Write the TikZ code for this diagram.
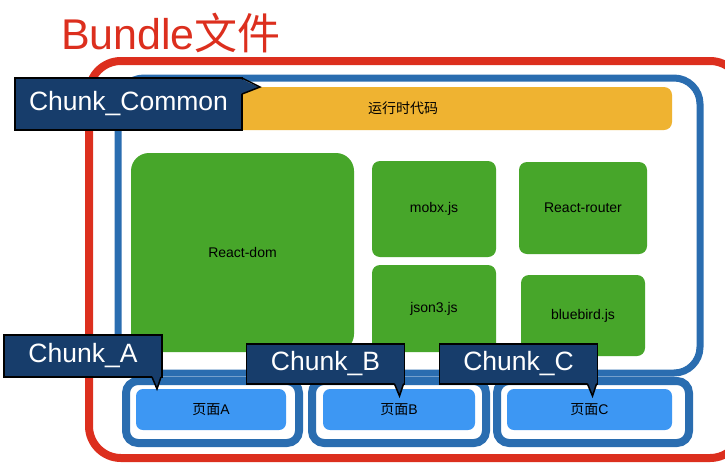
\documentclass[tikz,border=0pt]{standalone}
\usepackage{fontspec}
\setmainfont{Liberation Sans}
\newfontfamily\cjk{Noto Sans CJK SC}
\usetikzlibrary{calc}
\definecolor{bundlered}{HTML}{DC2F1E}
\definecolor{chunkblue}{HTML}{2A6DB0}
\definecolor{runtimeyellow}{HTML}{EFB331}
\definecolor{libgreen}{HTML}{47A62A}
\definecolor{pageblue}{HTML}{3D97F3}
\definecolor{tagnavy}{HTML}{173D6B}

\begin{document}
\begin{tikzpicture}[x=1pt, y=-1pt,
	every node/.style={inner sep=0, outer sep=0},
	bundlebox/.style={draw=bundlered, line width=8pt, rounded corners=32pt},
	commonbox/.style={draw=chunkblue, line width=7pt, fill=white, rounded corners=26pt},
	chunkbox/.style={draw=chunkblue, line width=8pt, fill=white, rounded corners=12pt},
	runtime/.style={fill=runtimeyellow, rounded corners=8pt, font=\cjk\fontsize{14}{16}\selectfont},
	lib/.style={fill=libgreen, rounded corners=8pt, font=\fontsize{14}{16}\selectfont},
	page/.style={fill=pageblue, rounded corners=7pt, font=\fontsize{14}{16}\selectfont},
	tag/.style={fill=tagnavy, draw=black, line width=1.5pt, text=white, font=\fontsize{26.5}{30}\selectfont},
	tagline/.style={draw=black, line width=1.5pt, line join=miter},
	title/.style={text=bundlered, font=\fontsize{43}{48}\selectfont}]
\useasboundingbox (0,0) rectangle (725,466);

\node[title, anchor=base west] (title) at (61,49) {Bundle{\cjk 文件}};
\node[bundlebox, minimum width=653, minimum height=397] (bundle) at (415.5,259.5) {};
\node[commonbox, minimum width=582, minimum height=295] (common) at (409,225.5) {};

\node[runtime, minimum width=538, minimum height=43] (runtime) at (403,108.5) {运行时代码};
\node[lib, rounded corners=18pt, minimum width=223, minimum height=199] (reactdom) at (242.5,252.5) {React-dom};
\foreach \n/\x/\y/\w/\h/\t in {mobx/434/209/124/96/mobx.js, json/434/308.5/124/87/json3.js,
	router/583/208/128/92/React-router, bluebird/583/315.5/124/81/bluebird.js}
	\node[lib, minimum width=\w, minimum height=\h] (\n) at (\x,\y) {\t};

% chunks for the pages
\foreach \c/\x/\w/\px/\pw in {A/212.5/173/211/150, B/399/174/399/152, C/593/192/589.5/165} {
	\node[chunkbox, minimum width=\w, minimum height=62] (box\c) at (\x,412) {};
	\node[page, minimum width=\pw, minimum height=41] (page\c) at (\px,409.5) {{\cjk 页面}\c};
}

% callout tags
\node[tag, minimum width=227, minimum height=52] (lcommon) at (128.5,104) {Chunk\_Common};
\fill[tagnavy] ($(lcommon.north east)+(-1,1)$) -- ($(lcommon.north east)+(17,9)$) -- ($(lcommon.north east)+(-1,16)$) -- cycle;
\draw[tagline] (lcommon.north east) -- ($(lcommon.north east)+(18,9)$) -- ($(lcommon.north east)+(0,16)$);

\foreach \c/\x/\y/\h in {A/83/356/42, B/325.5/364/40, C/518.5/364/40} {
	\node[tag, minimum width=158, minimum height=\h] (l\c) at (\x,\y) {Chunk\_\c};
	\fill[tagnavy] ($(l\c.south east)+(-10,-1)$) -- ($(l\c.south east)+(-5,12)$) -- ($(l\c.south east)+(-1,-1)$) -- cycle;
	\draw[tagline] ($(l\c.south east)+(-10,0)$) -- ($(l\c.south east)+(-5,12)$) -- ($(l\c.south east)+(-1,0)$);
}
\end{tikzpicture}
\end{document}
